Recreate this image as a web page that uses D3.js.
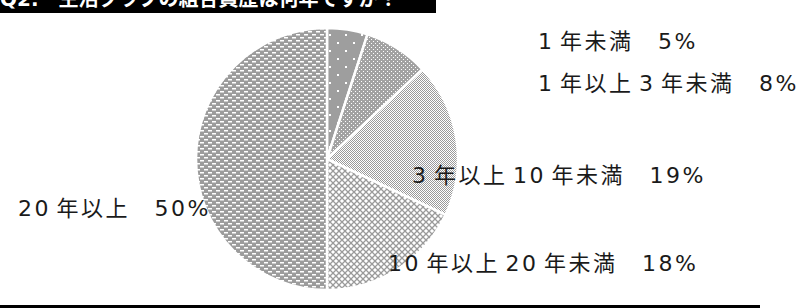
<!DOCTYPE html>
<html>
<head>
<meta charset="utf-8">
<script src="https://cdn.jsdelivr.net/npm/d3@7"></script>
<style>
  body { margin: 0; background: #fff; }
  text { font-family: "DejaVu Sans", "Noto Sans CJK JP", sans-serif; }
</style>
</head>
<body>
<div id="chart"></div>
<script>

var categories = ["1 年未満", "1 年以上 3 年未満", "3 年以上 10 年未満", "10 年以上 20 年未満", "20 年以上"];
var values = [5, 8, 19, 18, 50];
var title_text = "Q2.　生活クラブの組合員歴は何年ですか？";

var divWidth = 801,
    divHeight = 308;

var svg = d3.select("#chart").append("svg")
    .attr("width", divWidth)
    .attr("height", divHeight);

var defs = svg.append("defs");

// --- fill patterns (one per slice) ---
var pat;
// sparse dots
pat = defs.append("pattern").attr("id", "p0").attr("patternUnits", "userSpaceOnUse")
    .attr("width", 16).attr("height", 16);
pat.append("rect").attr("width", 16).attr("height", 16).attr("fill", "#9e9e9e");
pat.append("rect").attr("x", 2).attr("y", 3).attr("width", 2).attr("height", 2).attr("fill", "#fff");
pat.append("rect").attr("x", 10).attr("y", 11).attr("width", 2).attr("height", 2).attr("fill", "#fff");

// small dots, dense
pat = defs.append("pattern").attr("id", "p1").attr("patternUnits", "userSpaceOnUse")
    .attr("width", 4).attr("height", 4);
pat.append("rect").attr("width", 4).attr("height", 4).attr("fill", "#a2a2a2");
pat.append("rect").attr("x", 0).attr("y", 0).attr("width", 1).attr("height", 1).attr("fill", "#fff");
pat.append("rect").attr("x", 2).attr("y", 2).attr("width", 1).attr("height", 1).attr("fill", "#fff");

// fine checker
pat = defs.append("pattern").attr("id", "p2").attr("patternUnits", "userSpaceOnUse")
    .attr("width", 2).attr("height", 2);
pat.append("rect").attr("width", 2).attr("height", 2).attr("fill", "#fff");
pat.append("rect").attr("x", 0).attr("y", 0).attr("width", 1).attr("height", 1).attr("fill", "#9a9a9a");
pat.append("rect").attr("x", 1).attr("y", 1).attr("width", 1).attr("height", 1).attr("fill", "#9a9a9a");

// diamond lattice
pat = defs.append("pattern").attr("id", "p3").attr("patternUnits", "userSpaceOnUse")
    .attr("width", 6).attr("height", 6);
pat.append("rect").attr("width", 6).attr("height", 6).attr("fill", "#fff");
pat.append("path").attr("d", "M0,0L6,6M6,0L0,6").attr("stroke", "#9a9a9a").attr("stroke-width", 1.3);

// staggered dashes
pat = defs.append("pattern").attr("id", "p4").attr("patternUnits", "userSpaceOnUse")
    .attr("width", 8).attr("height", 6);
pat.append("rect").attr("width", 8).attr("height", 6).attr("fill", "#9c9c9c");
pat.append("rect").attr("x", 1).attr("y", 1).attr("width", 4).attr("height", 1.5).attr("fill", "#fff");
pat.append("rect").attr("x", 5).attr("y", 4).attr("width", 4).attr("height", 1.5).attr("fill", "#fff");
pat.append("rect").attr("x", -3).attr("y", 4).attr("width", 4).attr("height", 1.5).attr("fill", "#fff");

// --- title bar (cut off at the top, as in the source) ---
svg.append("rect")
    .attr("x", 0).attr("y", 0)
    .attr("width", 436).attr("height", 13)
    .attr("fill", "#000");

svg.append("clipPath").attr("id", "titleclip")
  .append("rect").attr("width", 436).attr("height", 13);

svg.append("text")
    .attr("clip-path", "url(#titleclip)")
    .attr("x", 0).attr("y", 6)
    .attr("fill", "#fff")
    .attr("font-family", "Noto Sans CJK JP")
    .attr("font-size", 20)
    .attr("font-weight", "bold")
    .text(title_text);

// --- pie ---
var cx = 327, cy = 159, radius = 131;

var pie = d3.pie().sort(null).value(function(d) { return d; });
var arc = d3.arc().innerRadius(0).outerRadius(radius);

var g = svg.append("g").attr("transform", "translate(" + cx + "," + cy + ")");

g.selectAll("path.slice")
    .data(pie(values))
  .enter().append("path")
    .attr("class", "slice")
    .attr("d", arc)
    .attr("fill", function(d, i) { return "url(#p" + i + ")"; })
    .attr("stroke", "#fff")
    .attr("stroke-width", 2.5);

// --- labels ---
// label anchor (left x, middle y) for each slice
var labelPos = [[538, 41], [538, 83], [412, 175], [388, 263], [18, 208]];

svg.selectAll("text.lbl")
    .data(values)
  .enter().append("text")
    .attr("class", "lbl")
    .attr("x", function(d, i) { return labelPos[i][0]; })
    .attr("y", function(d, i) { return labelPos[i][1]; })
    .attr("dy", "0.36em")
    .attr("font-size", 22)
    .attr("letter-spacing", 2.5)
    .attr("word-spacing", -4)
    .attr("fill", "#1a1a1a")
    .text(function(d, i) { return categories[i] + "　" + d + "%"; });

// --- bottom rule ---
svg.append("rect")
    .attr("x", 0).attr("y", 305)
    .attr("width", 760).attr("height", 3)
    .attr("fill", "#000");

</script>
</body>
</html>
